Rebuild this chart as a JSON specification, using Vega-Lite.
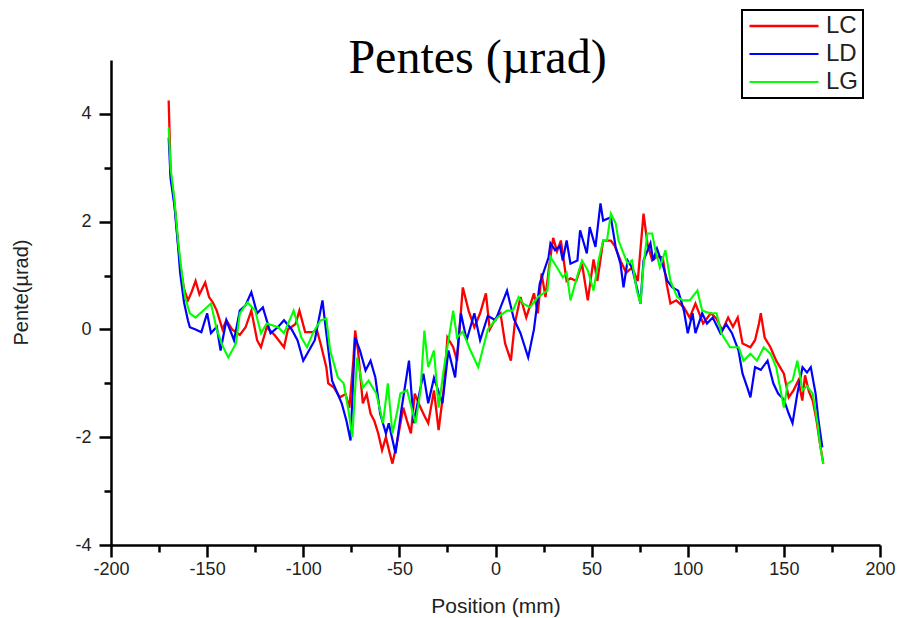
{
  "$schema": "https://vega.github.io/schema/vega-lite/v6.json",
  "width": 769,
  "height": 485,
  "autosize": {"type": "none"},
  "padding": {"left": 111, "top": 60, "right": 19, "bottom": 73},
  "background": "white",
  "title": {"text": "Pentes (µrad)", "font": "Liberation Serif", "fontSize": 48, "fontWeight": "normal", "color": "black", "anchor": "middle", "frame": "group", "baseline": "alphabetic", "offset": -16, "dx": -18, "dy": 96},
  "data": {"values": [
{"s":"LC","x":-170,"y":4.25},{"s":"LC","x":-169.5,"y":3.6},{"s":"LC","x":-169,"y":2.9},{"s":"LC","x":-167.5,"y":2.5},{"s":"LC","x":-166.5,"y":2.15},{"s":"LC","x":-165,"y":1.55},{"s":"LC","x":-164,"y":1.2},{"s":"LC","x":-162,"y":0.75},{"s":"LC","x":-160,"y":0.54},{"s":"LC","x":-158,"y":0.7},{"s":"LC","x":-156,"y":0.9},{"s":"LC","x":-154,"y":0.65},{"s":"LC","x":-151,"y":0.87},{"s":"LC","x":-149,"y":0.6},{"s":"LC","x":-147,"y":0.5},{"s":"LC","x":-145,"y":0.35},{"s":"LC","x":-142,"y":0.0},{"s":"LC","x":-140,"y":0.17},{"s":"LC","x":-137,"y":0.0},{"s":"LC","x":-133,"y":-0.1},{"s":"LC","x":-130,"y":0.04},{"s":"LC","x":-127,"y":0.35},{"s":"LC","x":-124,"y":-0.2},{"s":"LC","x":-122,"y":-0.33},{"s":"LC","x":-119,"y":0.04},{"s":"LC","x":-115,"y":-0.1},{"s":"LC","x":-110,"y":-0.33},{"s":"LC","x":-108,"y":0.0},{"s":"LC","x":-104,"y":0.1},{"s":"LC","x":-102,"y":0.35},{"s":"LC","x":-99,"y":-0.05},{"s":"LC","x":-95,"y":-0.05},{"s":"LC","x":-93,"y":0.0},{"s":"LC","x":-91,"y":-0.26},{"s":"LC","x":-88,"y":-0.7},{"s":"LC","x":-87,"y":-1.0},{"s":"LC","x":-84,"y":-1.08},{"s":"LC","x":-81,"y":-1.26},{"s":"LC","x":-78,"y":-1.2},{"s":"LC","x":-76,"y":-1.45},{"s":"LC","x":-74,"y":-0.6},{"s":"LC","x":-73,"y":-0.02},{"s":"LC","x":-71.5,"y":-0.39},{"s":"LC","x":-69,"y":-1.37},{"s":"LC","x":-67,"y":-1.2},{"s":"LC","x":-65,"y":-1.56},{"s":"LC","x":-63,"y":-1.7},{"s":"LC","x":-61,"y":-1.93},{"s":"LC","x":-59,"y":-2.24},{"s":"LC","x":-57,"y":-2.0},{"s":"LC","x":-55,"y":-2.3},{"s":"LC","x":-53.6,"y":-2.49},{"s":"LC","x":-51,"y":-2.06},{"s":"LC","x":-48,"y":-1.45},{"s":"LC","x":-46,"y":-1.7},{"s":"LC","x":-44,"y":-1.93},{"s":"LC","x":-42,"y":-1.19},{"s":"LC","x":-39,"y":-1.45},{"s":"LC","x":-37,"y":-1.6},{"s":"LC","x":-35,"y":-1.74},{"s":"LC","x":-32,"y":-1.13},{"s":"LC","x":-29.6,"y":-1.87},{"s":"LC","x":-27,"y":-1.13},{"s":"LC","x":-25,"y":-0.15},{"s":"LC","x":-22,"y":-0.33},{"s":"LC","x":-20,"y":-0.58},{"s":"LC","x":-17,"y":0.78},{"s":"LC","x":-14,"y":0.35},{"s":"LC","x":-11,"y":0.04},{"s":"LC","x":-8,"y":0.3},{"s":"LC","x":-5,"y":0.67},{"s":"LC","x":-3,"y":0.0},{"s":"LC","x":0,"y":0.2},{"s":"LC","x":2.6,"y":0.3},{"s":"LC","x":5,"y":-0.26},{"s":"LC","x":8,"y":-0.58},{"s":"LC","x":10,"y":0.1},{"s":"LC","x":13,"y":0.6},{"s":"LC","x":16,"y":0.22},{"s":"LC","x":20,"y":0.67},{"s":"LC","x":22,"y":0.3},{"s":"LC","x":24,"y":1.04},{"s":"LC","x":26,"y":0.6},{"s":"LC","x":28,"y":1.2},{"s":"LC","x":30,"y":1.7},{"s":"LC","x":32,"y":1.45},{"s":"LC","x":34,"y":1.65},{"s":"LC","x":37,"y":0.9},{"s":"LC","x":39,"y":0.95},{"s":"LC","x":42,"y":0.9},{"s":"LC","x":45,"y":1.22},{"s":"LC","x":48,"y":0.54},{"s":"LC","x":51,"y":1.3},{"s":"LC","x":53,"y":0.9},{"s":"LC","x":56,"y":1.65},{"s":"LC","x":60,"y":1.65},{"s":"LC","x":62,"y":1.55},{"s":"LC","x":65,"y":1.28},{"s":"LC","x":68,"y":1.05},{"s":"LC","x":71,"y":1.15},{"s":"LC","x":74,"y":0.9},{"s":"LC","x":77,"y":2.15},{"s":"LC","x":79,"y":1.6},{"s":"LC","x":81.5,"y":1.28},{"s":"LC","x":84,"y":1.35},{"s":"LC","x":87,"y":1.34},{"s":"LC","x":89,"y":0.85},{"s":"LC","x":91,"y":0.48},{"s":"LC","x":94,"y":0.54},{"s":"LC","x":98,"y":0.41},{"s":"LC","x":101,"y":0.22},{"s":"LC","x":104,"y":0.48},{"s":"LC","x":108,"y":0.11},{"s":"LC","x":112,"y":0.3},{"s":"LC","x":115,"y":0.2},{"s":"LC","x":118,"y":-0.02},{"s":"LC","x":121,"y":0.22},{"s":"LC","x":123.5,"y":0.05},{"s":"LC","x":126,"y":0.22},{"s":"LC","x":128.5,"y":-0.26},{"s":"LC","x":132.6,"y":-0.33},{"s":"LC","x":135,"y":-0.2},{"s":"LC","x":137,"y":0.1},{"s":"LC","x":138,"y":0.3},{"s":"LC","x":140,"y":-0.15},{"s":"LC","x":143,"y":-0.33},{"s":"LC","x":146,"y":-0.58},{"s":"LC","x":150,"y":-0.82},{"s":"LC","x":152.5,"y":-1.26},{"s":"LC","x":155,"y":-1.13},{"s":"LC","x":157.5,"y":-0.95},{"s":"LC","x":159.6,"y":-1.32},{"s":"LC","x":161,"y":-0.85},{"s":"LC","x":163,"y":-1.15},{"s":"LC","x":165,"y":-1.32},{"s":"LC","x":167,"y":-1.69},{"s":"LC","x":168.5,"y":-2.06},{"s":"LC","x":170.5,"y":-2.49},
{"s":"LD","x":-170,"y":3.56},{"s":"LD","x":-169,"y":2.8},{"s":"LD","x":-167,"y":2.3},{"s":"LD","x":-165,"y":1.5},{"s":"LD","x":-164,"y":1.04},{"s":"LD","x":-162,"y":0.5},{"s":"LD","x":-160,"y":0.17},{"s":"LD","x":-159,"y":0.04},{"s":"LD","x":-156,"y":0.0},{"s":"LD","x":-153,"y":-0.05},{"s":"LD","x":-150,"y":0.3},{"s":"LD","x":-148,"y":-0.07},{"s":"LD","x":-145,"y":0.05},{"s":"LD","x":-143,"y":-0.39},{"s":"LD","x":-140,"y":0.17},{"s":"LD","x":-136,"y":-0.2},{"s":"LD","x":-133,"y":0.35},{"s":"LD","x":-130,"y":0.45},{"s":"LD","x":-127,"y":0.69},{"s":"LD","x":-124,"y":0.3},{"s":"LD","x":-121,"y":0.41},{"s":"LD","x":-117,"y":-0.07},{"s":"LD","x":-113,"y":0.05},{"s":"LD","x":-110,"y":0.17},{"s":"LD","x":-106,"y":0.0},{"s":"LD","x":-103,"y":-0.2},{"s":"LD","x":-100,"y":-0.58},{"s":"LD","x":-97,"y":-0.39},{"s":"LD","x":-94,"y":-0.2},{"s":"LD","x":-90,"y":0.54},{"s":"LD","x":-88,"y":-0.07},{"s":"LD","x":-85,"y":-0.95},{"s":"LD","x":-80,"y":-1.37},{"s":"LD","x":-77.5,"y":-1.7},{"s":"LD","x":-75.4,"y":-2.06},{"s":"LD","x":-74,"y":-0.9},{"s":"LD","x":-73,"y":-0.15},{"s":"LD","x":-70.5,"y":-0.39},{"s":"LD","x":-67.6,"y":-0.76},{"s":"LD","x":-65,"y":-0.58},{"s":"LD","x":-62.5,"y":-0.89},{"s":"LD","x":-60,"y":-1.56},{"s":"LD","x":-57,"y":-1.93},{"s":"LD","x":-55.5,"y":-1.74},{"s":"LD","x":-52,"y":-2.3},{"s":"LD","x":-49,"y":-1.5},{"s":"LD","x":-45,"y":-0.58},{"s":"LD","x":-42.5,"y":-1.74},{"s":"LD","x":-40,"y":-1.26},{"s":"LD","x":-37.5,"y":-0.82},{"s":"LD","x":-35,"y":-1.37},{"s":"LD","x":-32,"y":-0.9},{"s":"LD","x":-27.6,"y":-1.37},{"s":"LD","x":-24.5,"y":-0.39},{"s":"LD","x":-21,"y":-0.89},{"s":"LD","x":-18,"y":0.3},{"s":"LD","x":-15,"y":-0.2},{"s":"LD","x":-11,"y":0.3},{"s":"LD","x":-8,"y":-0.2},{"s":"LD","x":-4,"y":0.25},{"s":"LD","x":0,"y":0.17},{"s":"LD","x":6,"y":0.72},{"s":"LD","x":9.5,"y":0.2},{"s":"LD","x":13,"y":-0.07},{"s":"LD","x":17,"y":-0.52},{"s":"LD","x":20,"y":0.0},{"s":"LD","x":23,"y":0.85},{"s":"LD","x":27.6,"y":1.34},{"s":"LD","x":28.6,"y":1.6},{"s":"LD","x":31,"y":1.47},{"s":"LD","x":33.5,"y":1.55},{"s":"LD","x":35,"y":1.28},{"s":"LD","x":37,"y":1.65},{"s":"LD","x":39,"y":1.22},{"s":"LD","x":42.6,"y":1.28},{"s":"LD","x":44,"y":1.84},{"s":"LD","x":47.5,"y":1.41},{"s":"LD","x":49,"y":1.9},{"s":"LD","x":52,"y":1.53},{"s":"LD","x":54.6,"y":2.34},{"s":"LD","x":56,"y":2.02},{"s":"LD","x":60,"y":2.08},{"s":"LD","x":62.5,"y":1.53},{"s":"LD","x":65,"y":1.22},{"s":"LD","x":66.6,"y":0.78},{"s":"LD","x":68.7,"y":1.28},{"s":"LD","x":71,"y":1.15},{"s":"LD","x":73.5,"y":0.78},{"s":"LD","x":75.4,"y":0.48},{"s":"LD","x":77,"y":1.28},{"s":"LD","x":80.6,"y":1.6},{"s":"LD","x":82,"y":1.28},{"s":"LD","x":84,"y":1.5},{"s":"LD","x":87.4,"y":1.15},{"s":"LD","x":89.4,"y":0.9},{"s":"LD","x":92,"y":0.78},{"s":"LD","x":95,"y":0.72},{"s":"LD","x":98,"y":0.35},{"s":"LD","x":100,"y":-0.07},{"s":"LD","x":102.5,"y":0.3},{"s":"LD","x":104,"y":-0.07},{"s":"LD","x":107.5,"y":0.3},{"s":"LD","x":110,"y":0.11},{"s":"LD","x":113,"y":0.22},{"s":"LD","x":117,"y":-0.07},{"s":"LD","x":120,"y":0.1},{"s":"LD","x":123,"y":-0.07},{"s":"LD","x":126.4,"y":-0.39},{"s":"LD","x":128.5,"y":-0.82},{"s":"LD","x":131,"y":-1.08},{"s":"LD","x":132.6,"y":-1.26},{"s":"LD","x":135,"y":-0.7},{"s":"LD","x":138,"y":-0.75},{"s":"LD","x":141.5,"y":-0.58},{"s":"LD","x":144.5,"y":-1.0},{"s":"LD","x":147,"y":-1.19},{"s":"LD","x":150,"y":-1.3},{"s":"LD","x":152.5,"y":-1.56},{"s":"LD","x":154.5,"y":-1.74},{"s":"LD","x":157,"y":-1.19},{"s":"LD","x":159.7,"y":-0.7},{"s":"LD","x":162,"y":-0.8},{"s":"LD","x":164,"y":-0.7},{"s":"LD","x":166.5,"y":-1.19},{"s":"LD","x":168,"y":-1.69},{"s":"LD","x":170,"y":-2.19},
{"s":"LG","x":-170,"y":3.75},{"s":"LG","x":-169,"y":3.0},{"s":"LG","x":-167,"y":2.4},{"s":"LG","x":-165,"y":1.6},{"s":"LG","x":-163,"y":1.0},{"s":"LG","x":-161.5,"y":0.6},{"s":"LG","x":-159,"y":0.3},{"s":"LG","x":-156,"y":0.22},{"s":"LG","x":-152,"y":0.35},{"s":"LG","x":-148,"y":0.48},{"s":"LG","x":-145,"y":0.0},{"s":"LG","x":-142,"y":-0.3},{"s":"LG","x":-139,"y":-0.52},{"s":"LG","x":-135,"y":-0.26},{"s":"LG","x":-133,"y":0.3},{"s":"LG","x":-129,"y":0.5},{"s":"LG","x":-125,"y":0.35},{"s":"LG","x":-122,"y":-0.07},{"s":"LG","x":-119,"y":0.11},{"s":"LG","x":-113,"y":0.04},{"s":"LG","x":-110,"y":-0.07},{"s":"LG","x":-105,"y":0.35},{"s":"LG","x":-101,"y":-0.15},{"s":"LG","x":-98,"y":-0.33},{"s":"LG","x":-95,"y":-0.07},{"s":"LG","x":-91,"y":0.17},{"s":"LG","x":-88,"y":0.2},{"s":"LG","x":-86,"y":-0.39},{"s":"LG","x":-82,"y":-0.89},{"s":"LG","x":-79,"y":-1.0},{"s":"LG","x":-76.5,"y":-1.5},{"s":"LG","x":-74.5,"y":-2.0},{"s":"LG","x":-72,"y":-0.52},{"s":"LG","x":-69,"y":-1.08},{"s":"LG","x":-66,"y":-0.95},{"s":"LG","x":-62,"y":-1.19},{"s":"LG","x":-58.5,"y":-1.74},{"s":"LG","x":-56,"y":-1.0},{"s":"LG","x":-53.6,"y":-1.93},{"s":"LG","x":-51,"y":-1.5},{"s":"LG","x":-49.5,"y":-1.19},{"s":"LG","x":-46,"y":-1.13},{"s":"LG","x":-41.6,"y":-1.74},{"s":"LG","x":-39,"y":-1.13},{"s":"LG","x":-37,"y":-0.02},{"s":"LG","x":-35,"y":-0.7},{"s":"LG","x":-32,"y":-0.39},{"s":"LG","x":-29.6,"y":-1.45},{"s":"LG","x":-27,"y":-0.76},{"s":"LG","x":-22,"y":0.35},{"s":"LG","x":-20,"y":-0.15},{"s":"LG","x":-17,"y":-0.04},{"s":"LG","x":-13,"y":-0.39},{"s":"LG","x":-9,"y":-0.7},{"s":"LG","x":-4,"y":0.0},{"s":"LG","x":1,"y":0.22},{"s":"LG","x":6,"y":0.35},{"s":"LG","x":9,"y":0.35},{"s":"LG","x":12,"y":0.6},{"s":"LG","x":14.5,"y":0.48},{"s":"LG","x":18,"y":0.41},{"s":"LG","x":22,"y":0.6},{"s":"LG","x":27,"y":0.72},{"s":"LG","x":28.6,"y":1.34},{"s":"LG","x":32,"y":1.15},{"s":"LG","x":35,"y":0.97},{"s":"LG","x":37,"y":1.05},{"s":"LG","x":39,"y":0.54},{"s":"LG","x":42.6,"y":1.0},{"s":"LG","x":45,"y":1.28},{"s":"LG","x":48,"y":1.1},{"s":"LG","x":51,"y":0.72},{"s":"LG","x":53.6,"y":1.28},{"s":"LG","x":56,"y":1.65},{"s":"LG","x":58,"y":1.65},{"s":"LG","x":60,"y":2.15},{"s":"LG","x":62.5,"y":1.97},{"s":"LG","x":64,"y":1.65},{"s":"LG","x":66.6,"y":1.41},{"s":"LG","x":68.7,"y":1.22},{"s":"LG","x":71,"y":1.28},{"s":"LG","x":73.5,"y":0.72},{"s":"LG","x":75.4,"y":0.48},{"s":"LG","x":77,"y":1.2},{"s":"LG","x":79,"y":1.78},{"s":"LG","x":81.5,"y":1.78},{"s":"LG","x":83,"y":1.5},{"s":"LG","x":85.5,"y":1.15},{"s":"LG","x":88.4,"y":1.47},{"s":"LG","x":91,"y":0.9},{"s":"LG","x":94.5,"y":0.6},{"s":"LG","x":97.5,"y":0.54},{"s":"LG","x":101,"y":0.54},{"s":"LG","x":105,"y":0.72},{"s":"LG","x":107.5,"y":0.35},{"s":"LG","x":111.5,"y":0.3},{"s":"LG","x":115,"y":0.3},{"s":"LG","x":117.5,"y":-0.07},{"s":"LG","x":122,"y":-0.33},{"s":"LG","x":126.5,"y":-0.33},{"s":"LG","x":129,"y":-0.58},{"s":"LG","x":132.6,"y":-0.45},{"s":"LG","x":136,"y":-0.58},{"s":"LG","x":139.5,"y":-0.33},{"s":"LG","x":143,"y":-0.45},{"s":"LG","x":146,"y":-0.7},{"s":"LG","x":150,"y":-1.45},{"s":"LG","x":152,"y":-1.0},{"s":"LG","x":154.5,"y":-0.95},{"s":"LG","x":157,"y":-0.58},{"s":"LG","x":159.7,"y":-1.13},{"s":"LG","x":162,"y":-1.05},{"s":"LG","x":165,"y":-1.19},{"s":"LG","x":167.5,"y":-1.74},{"s":"LG","x":169,"y":-2.19},{"s":"LG","x":170.5,"y":-2.49}
  ]},
  "mark": {"type": "line", "interpolate": "linear", "clip": true},
  "encoding": {
    "x": {"field": "x", "type": "quantitative", "scale": {"domain": [-200, 200], "nice": false},
      "axis": {"title": "Position (mm)", "values": [-200,-175,-150,-125,-100,-75,-50,-25,0,25,50,75,100,125,150,175,200],
        "labelExpr": "datum.value % 50 === 0 ? replace(datum.label, '−', '-') : ''", "labelFlush": false,
        "tickSize": {"condition": {"test": "datum.value % 50 === 0", "value": 12}, "value": 7},
        "labelPadding": 3, "titlePadding": 17, "titleFontSize": 21}},
    "y": {"field": "y", "type": "quantitative", "scale": {"domain": [-4, 5], "nice": false, "zero": false},
      "axis": {"title": "Pente(µrad)", "values": [-4,-3,-2,-1,0,1,2,3,4],
        "labelExpr": "datum.value % 2 === 0 ? replace(datum.label, '−', '-') : ''", "labelFlush": false,
        "tickSize": {"condition": {"test": "datum.value % 2 === 0", "value": 12}, "value": 7},
        "labelPadding": 8, "titlePadding": 43, "titleY": 232, "titleFontSize": 20}},
    "color": {"field": "s", "type": "nominal", "scale": {"domain": ["LC", "LD", "LG"], "range": ["#ff0000", "#0000ff", "#00ff00"]},
      "legend": {"title": null, "orient": "none", "legendX": 631, "legendY": -50, "symbolType": "M-4,0H4", "symbolSize": 298, "symbolOffset": 26, "symbolStrokeWidth": 2.5,
        "labelFont": "Liberation Sans", "labelFontSize": 24, "labelColor": "#222", "labelOffset": 30, "strokeColor": "black", "padding": 4, "rowPadding": 4}},
    "strokeWidth": {"field": "s", "type": "nominal", "scale": {"domain": ["LC", "LD", "LG"], "range": [2.3, 2.1, 2.7]}, "legend": null}
  },
  "config": {
    "view": {"stroke": null},
    "axis": {"domainColor": "black", "domainWidth": 2.5, "tickColor": "black", "tickWidth": 2.5, "grid": false,
      "labelFont": "Liberation Sans", "labelFontSize": 18, "labelColor": "#222", "titleFont": "Liberation Sans", "titleFontWeight": "normal", "titleColor": "#222"},
    "legend": {"strokeWidth": 2}
  }
}
